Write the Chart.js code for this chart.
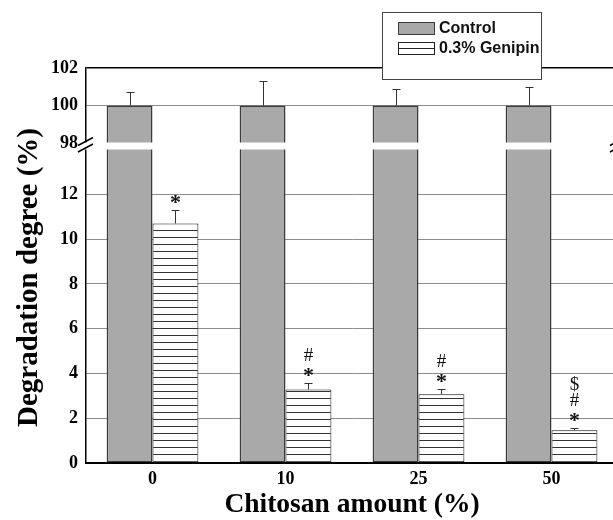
<!DOCTYPE html>
<html lang="en">
<head>
    <meta charset="UTF-8">
    <title>Degradation degree</title>
    <style>
        html, body { margin: 0; padding: 0; background: #fff; overflow: hidden; }
        #wrap { position: relative; width: 626px; height: 520px; }
    </style>
</head>
<body>
    <div id="wrap"><canvas id="degChart"></canvas></div>

    <script src="https://cdn.jsdelivr.net/npm/chart.js"></script>
    <script>
        // data
        const chitosanAmounts = ['0', '10', '25', '50'];
        const controlMean = [100, 100, 100, 100];
        const controlSd = [0.7, 1.3, 0.9, 1.0];
        const genipinMean = [10.7, 3.28, 3.07, 1.46];
        const genipinSd = [0.6, 0.3, 0.25, 0.1];
        const genipinMarks = [['*'], ['*', '#'], ['*', '#'], ['*', '#', '$']];
        const upperTicks = [98, 100, 102];
        const lowerTicks = [0, 2, 4, 6, 8, 10, 12];

        // broken axis: two stacked value scales
        const UPPER_MIN = 97.84, UPPER_MAX = 102;
        const LOWER_MIN = 0, LOWER_MAX = 14.16;

        const SERIF = "'Liberation Serif', 'Times New Roman', serif";
        const SANS = "'Liberation Sans', Arial, sans-serif";
        const CONTROL_FILL = '#a9a9a9';
        const CONTROL_EDGE = '#3a3a3a';

        const canvas = document.getElementById('degChart');
        const ctx = canvas.getContext('2d');

        function makeHatch() {
            const c = document.createElement('canvas');
            c.width = 8; c.height = 7;
            const g = c.getContext('2d');
            g.fillStyle = '#fff';
            g.fillRect(0, 0, 8, 7);
            g.fillStyle = '#333';
            g.fillRect(0, 6, 8, 1);
            return ctx.createPattern(c, 'repeat');
        }
        const hatch = makeHatch();

        function drawErrors(c, meta, scale, means, sds) {
            meta.data.forEach((bar, i) => {
                const x = Math.round(bar.x) + 0.5;
                const yBar = scale.getPixelForValue(means[i]);
                const yTop = Math.round(scale.getPixelForValue(means[i] + sds[i])) + 0.5;
                c.beginPath();
                c.moveTo(x, yBar);
                c.lineTo(x, yTop);
                c.moveTo(x - 4, yTop);
                c.lineTo(x + 4, yTop);
                c.stroke();
            });
        }

        const errorBarPlugin = {
            id: 'errorBars',
            afterDatasetsDraw(chart) {
                const c = chart.ctx;
                c.save();
                c.strokeStyle = '#333';
                c.lineWidth = 1;
                drawErrors(c, chart.getDatasetMeta(1), chart.scales.yHigh, controlMean, controlSd);
                drawErrors(c, chart.getDatasetMeta(2), chart.scales.yLow, genipinMean, genipinSd);

                // significance marks above the genipin bars
                const meta = chart.getDatasetMeta(2);
                c.fillStyle = '#111';
                c.textAlign = 'center';
                c.textBaseline = 'alphabetic';
                meta.data.forEach((bar, i) => {
                    const yTop = chart.scales.yLow.getPixelForValue(genipinMean[i] + genipinSd[i]);
                    genipinMarks[i].forEach((m, k) => {
                        const centre = yTop - 12 - k * 16.5;
                        if (m === '*') {
                            c.font = 'bold 22px ' + SERIF;
                            c.fillText(m, bar.x, centre + 11);
                        } else {
                            c.font = '19px ' + SERIF;
                            c.fillText(m, bar.x, centre + 6.5);
                        }
                    });
                });

                // white gap of the axis break
                const area = chart.chartArea;
                const bandTop = chart.scales.yHigh.getPixelForValue(98) - 0.5;
                c.fillStyle = '#fff';
                c.fillRect(area.left - 1.5, bandTop, area.right - area.left + 3, 7);

                c.strokeStyle = '#000';
                c.lineWidth = 1.5;
                [area.left, area.right].forEach(ax => {
                    c.beginPath();
                    c.moveTo(ax - 8, bandTop + 3);
                    c.lineTo(ax + 7, bandTop - 5);
                    c.moveTo(ax - 8, bandTop + 9.5);
                    c.lineTo(ax + 7, bandTop + 1.5);
                    c.stroke();
                });
                c.restore();
            },
            afterDraw(chart) {
                const c = chart.ctx;
                const area = chart.chartArea;
                c.save();

                // y axis title
                c.translate(30, (area.top + area.bottom) / 2 + 12);
                c.rotate(-Math.PI / 2);
                c.fillStyle = '#000';
                c.font = 'bold 29px ' + SERIF;
                c.textAlign = 'center';
                c.textBaseline = 'middle';
                c.fillText('Degradation degree (%)', 0, 0);
                c.setTransform(1, 0, 0, 1, 0, 0);

                // legend box
                c.fillStyle = '#fff';
                c.fillRect(382.5, 12.5, 159, 67);
                c.strokeStyle = '#444';
                c.lineWidth = 1;
                c.strokeRect(382.5, 12.5, 159, 67);

                c.fillStyle = CONTROL_FILL;
                c.fillRect(398.5, 22.5, 36, 12);
                c.strokeStyle = CONTROL_EDGE;
                c.strokeRect(398.5, 22.5, 36, 12);

                c.fillStyle = '#fff';
                c.fillRect(398.5, 42.5, 36, 12);
                c.strokeStyle = '#222';
                c.strokeRect(398.5, 42.5, 36, 12);
                c.beginPath();
                c.moveTo(398.5, 48.5);
                c.lineTo(434.5, 48.5);
                c.stroke();

                c.fillStyle = '#111';
                c.font = 'bold 16px ' + SANS;
                c.textAlign = 'left';
                c.textBaseline = 'middle';
                c.fillText('Control', 439, 29);
                c.fillText('0.3% Genipin', 439, 49);
                c.restore();
            }
        };

        const tickFont = { family: SERIF, size: 18, weight: 'bold' };

        new Chart(ctx, {
            type: 'bar',
            data: {
                labels: chitosanAmounts,
                datasets: [
                    {
                        label: 'Control',
                        data: controlMean.map(v => [LOWER_MIN, Math.min(v, LOWER_MAX)]),
                        yAxisID: 'yLow',
                        stack: 'control',
                        backgroundColor: CONTROL_FILL,
                        borderColor: CONTROL_EDGE,
                        borderWidth: 1.5,
                        borderSkipped: false
                    },
                    {
                        label: 'Control',
                        data: controlMean,
                        yAxisID: 'yHigh',
                        stack: 'control',
                        backgroundColor: CONTROL_FILL,
                        borderColor: CONTROL_EDGE,
                        borderWidth: 1.5,
                        borderSkipped: false
                    },
                    {
                        label: '0.3% Genipin',
                        data: genipinMean,
                        yAxisID: 'yLow',
                        stack: 'genipin',
                        backgroundColor: hatch,
                        borderColor: '#111',
                        borderWidth: 1,
                        borderSkipped: false
                    }
                ]
            },
            options: {
                responsive: true,
                maintainAspectRatio: false,
                animation: false,
                barPercentage: 1,
                categoryPercentage: 0.69,
                layout: { padding: { top: 68, right: 8, left: 0, bottom: 0 } },
                plugins: {
                    legend: { display: false },
                    tooltip: { enabled: false }
                },
                scales: {
                    x: {
                        offset: true,
                        grid: { display: false, drawTicks: false },
                        border: { display: true, color: '#000', width: 2, z: 1 },
                        ticks: { font: tickFont, color: '#000', padding: 6 },
                        title: {
                            display: true,
                            text: 'Chitosan amount (%)',
                            color: '#000',
                            font: { family: SERIF, size: 27.5, weight: 'bold', lineHeight: 1 },
                            padding: { top: 0, bottom: 1 }
                        },
                        afterFit: s => { s.height = 57; }
                    },
                    yLow: {
                        type: 'linear',
                        position: 'left',
                        stack: 'deg',
                        stackWeight: 317,
                        stacked: false,
                        min: LOWER_MIN,
                        max: LOWER_MAX,
                        afterBuildTicks: s => { s.ticks = lowerTicks.map(v => ({ value: v })); },
                        grid: { drawTicks: false, color: '#8c8c8c', lineWidth: 1 },
                        border: { display: true, color: '#000', width: 1.5 },
                        ticks: { font: tickFont, color: '#000', padding: 8, autoSkip: false },
                        afterFit: s => { s.width = 86; }
                    },
                    yHigh: {
                        type: 'linear',
                        position: 'left',
                        stack: 'deg',
                        stackWeight: 78,
                        stacked: false,
                        min: UPPER_MIN,
                        max: UPPER_MAX,
                        afterBuildTicks: s => { s.ticks = upperTicks.map(v => ({ value: v })); },
                        grid: {
                            drawTicks: false,
                            color: c => (c.tick && c.tick.value === 102 ? '#000' : '#8c8c8c'),
                            lineWidth: c => (c.tick && c.tick.value === 102 ? 1.5 : 1)
                        },
                        border: { display: true, color: '#000', width: 1.5 },
                        ticks: { font: tickFont, color: '#000', padding: 8, autoSkip: false },
                        afterFit: s => { s.width = 86; }
                    }
                }
            },
            plugins: [errorBarPlugin]
        });
    </script>
</body>
</html>
